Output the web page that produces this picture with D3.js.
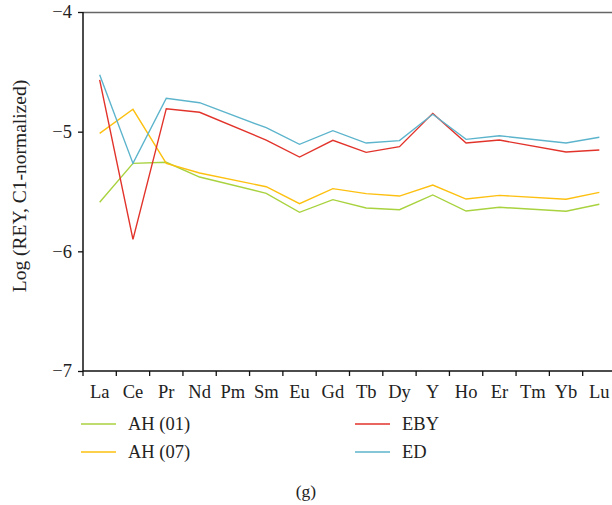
<!DOCTYPE html>
<html><head><meta charset="utf-8">
<script src="https://cdn.jsdelivr.net/npm/d3@7"></script>
<style>body{margin:0;background:#fff}svg{display:block}</style>
</head><body>
<script>
const categories = ["La","Ce","Pr","Nd","Pm","Sm","Eu","Gd","Tb","Dy","Y","Ho","Er","Tm","Yb","Lu"];
const ah01 = [-5.59,-5.265,-5.256,-5.379,null,-5.515,-5.674,-5.568,-5.638,-5.652,-5.529,-5.663,-5.632,null,-5.665,-5.607];
const ah07 = [-5.014,-4.813,-5.265,-5.345,null,-5.460,-5.602,-5.476,-5.518,-5.538,-5.446,-5.563,-5.532,null,-5.565,-5.507];
const eby  = [-4.568,-5.90,-4.808,-4.838,null,-5.070,-5.212,-5.072,-5.173,-5.125,-4.847,-5.095,-5.070,null,-5.170,-5.153];
const ed   = [-4.524,-5.265,-4.721,-4.758,null,-4.967,-5.106,-4.992,-5.095,-5.075,-4.855,-5.064,-5.034,null,-5.095,-5.047];
const yTicks = [-4,-5,-6,-7];
const seriesNames = ["AH (01)","AH (07)","EBY","ED"];
const seriesValues = [ah01, ah07, eby, ed];
const colors = ["#a8d23e","#fdc010","#e2332b","#5cb4cc"];

const W=612,H=505;
const svg=d3.select("body").append("svg").attr("width",W).attr("height",H);
const font="'Liberation Serif','DejaVu Serif',serif";
const x=d3.scaleBand().domain(categories).range([83,616]);
const y=d3.scaleLinear().domain([-7,-4]).range([371,12]);

// top border
svg.append("line").attr("x1",83).attr("x2",W).attr("y1",12.5).attr("y2",12.5)
  .attr("stroke","#666").attr("stroke-width",1.6);

const line=d3.line().x(d=>x(d.c)+x.bandwidth()/2).y(d=>y(d.v));
seriesValues.forEach((vals,i)=>{
  const pts=categories.map((c,j)=>({c,v:vals[j]})).filter(d=>d.v!==null);
  svg.append("path").attr("d",line(pts)).attr("fill","none")
    .attr("stroke",colors[i]).attr("stroke-width",1.4);
});

const yAx=svg.append("g").attr("transform","translate(83,0)")
  .call(d3.axisLeft(y).tickValues(yTicks).tickSize(5).tickFormat(d=>"\u2212"+Math.abs(d)));
yAx.select(".domain").attr("stroke","#111").attr("stroke-width",1.5).attr("d","M0,12V371");
yAx.selectAll("line").attr("stroke","#111").attr("stroke-width",1.3);
yAx.selectAll("text").attr("font-family",font).attr("font-size",18.5).attr("fill","#222").attr("x",-11);

const xAx=svg.append("g").attr("transform","translate(0,371)")
  .call(d3.axisBottom(x).tickSize(0).tickPadding(14));
xAx.select(".domain").attr("stroke","#111").attr("stroke-width",1.5).attr("d","M83,0H612");
xAx.selectAll("text").attr("font-family",font).attr("font-size",18.5).attr("fill","#222");
// boundary ticks between bands
const bounds=categories.map(c=>x(c)).concat([x(categories[categories.length-1])+x.bandwidth()]).filter(v=>v<=W);
xAx.selectAll(".bt").data(bounds).enter().append("line").attr("class","bt")
  .attr("x1",d=>d).attr("x2",d=>d).attr("y1",0).attr("y2",5).attr("stroke","#111").attr("stroke-width",1.3);

svg.append("text").attr("transform","translate(26,186) rotate(-90)").attr("text-anchor","middle")
  .attr("font-family",font).attr("font-size",19.5).attr("fill","#222").text("Log (REY, C1-normalized)");

const legPos=[[81,424],[81,452],[355,424],[355,452]];
seriesNames.forEach((n,i)=>{
  const [lx,ly]=legPos[i];
  svg.append("line").attr("x1",lx).attr("x2",lx+35).attr("y1",ly).attr("y2",ly)
    .attr("stroke",colors[i]).attr("stroke-width",1.6);
  svg.append("text").attr("x",lx+47).attr("y",ly+6).attr("font-family",font).attr("font-size",18.5)
    .attr("fill","#222").text(n);
});
svg.append("text").attr("x",306).attr("y",497).attr("text-anchor","middle").attr("font-family",font)
  .attr("font-size",17.5).attr("fill","#222").text("(g)");
</script>
</body></html>
